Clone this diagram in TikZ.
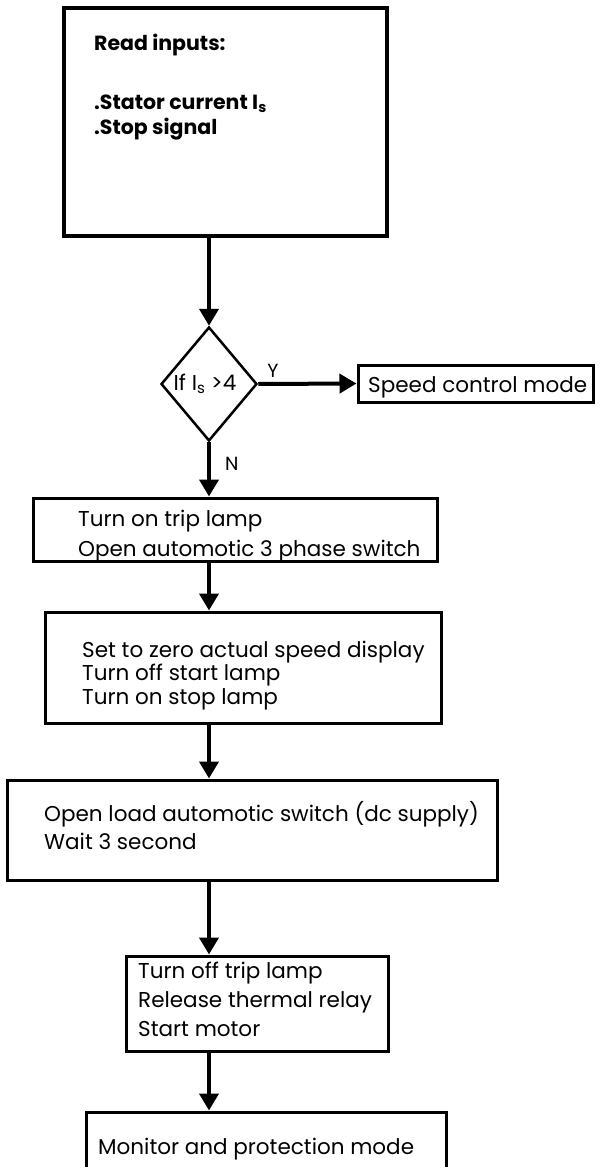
\documentclass[tikz,border=0pt]{standalone}
\usepackage{fontspec}
\setmainfont{Poppins}
\usetikzlibrary{arrows.meta,shapes.geometric}
\tikzset{
  box/.style={draw, line width=3pt, rectangle, inner sep=0pt},
  bigbox/.style={draw, line width=4pt, rectangle, inner sep=0pt},
  dia/.style={draw, line width=2.5pt, diamond, inner sep=0pt, minimum width=96pt, minimum height=114pt},
  txt/.style={anchor=base west, inner sep=0pt, align=left},
  fs/.style={font=\fontsize{21.5}{#1}\selectfont},
  flow/.style={line width=4pt, -{Triangle[length=17pt,width=19pt]}},
  lbl/.style={inner sep=0pt, font=\fontsize{19}{20}\selectfont}
}
\begin{document}
\begin{tikzpicture}[x=1pt,y=-1pt]
\useasboundingbox (0,0) rectangle (602,1167);
% boxes
\node[bigbox, minimum width=323pt, minimum height=228pt] (top) at (225.5,122) {};
\node[dia] (d) at (209,384) {};
\node[box, minimum width=235pt, minimum height=37pt] (sp) at (475.5,383.5) {};
\node[box, minimum width=404pt, minimum height=63pt] (b1) at (235,529.5) {};
\node[box, minimum width=396pt, minimum height=111pt] (b2) at (243,667.5) {};
\node[box, minimum width=490pt, minimum height=100pt] (b3) at (252,830) {};
\node[box, minimum width=262pt, minimum height=95pt] (b4) at (257,1003.5) {};
\node[box, minimum width=360pt, minimum height=90pt] (b5) at (266,1157) {};
% texts (multi-line nodes are placed by the baseline of their last line)
\node[txt, font=\bfseries\fontsize{20.5}{25}\selectfont] (t0) at (94,50) {Read inputs:};
\node[txt, font=\bfseries\fontsize{20.5}{25}\selectfont] (t0c) at (94,134) {.Stator current I\textsubscript{s}\\.Stop signal};
\node[inner sep=0pt, anchor=base, fs=24] (dt) at (205,390) {If I\textsubscript{s} >4};
\node[txt, fs=24] (spt) at (368,392) {Speed control mode};
\node[txt, fs=30] (t1) at (78,556) {Turn on trip lamp\\Open automotic 3 phase switch};
\node[txt, fs=23.5] (t2) at (82,704) {Set to zero actual speed display\\Turn off start lamp\\Turn on stop lamp};
\node[txt, fs=28] (t3) at (44,849) {Open load automotic switch (dc supply)\\Wait 3 second};
\node[txt, fs=29] (t4) at (138,1036) {Turn off trip lamp\\Release thermal relay\\Start motor};
\node[txt, fs=24] (t5) at (98,1154) {Monitor and protection mode};
% connectors
\draw[flow] (top.south -| d.north) -- (d.north);
\draw[flow] (d.east) -- node[lbl, above=4pt, pos=0.15] {Y} (sp.west);
\draw[flow] (d.south) -- node[lbl, right=14pt, pos=0.4] {N} (d.south |- b1.north);
\draw[flow] (d.south |- b1.south) -- (d.south |- b2.north);
\draw[flow] (d.south |- b2.south) -- (d.south |- b3.north);
\draw[flow] (d.south |- b3.south) -- (d.south |- b4.north);
\draw[flow] (d.south |- b4.south) -- (d.south |- b5.north);
\end{tikzpicture}
\end{document}
